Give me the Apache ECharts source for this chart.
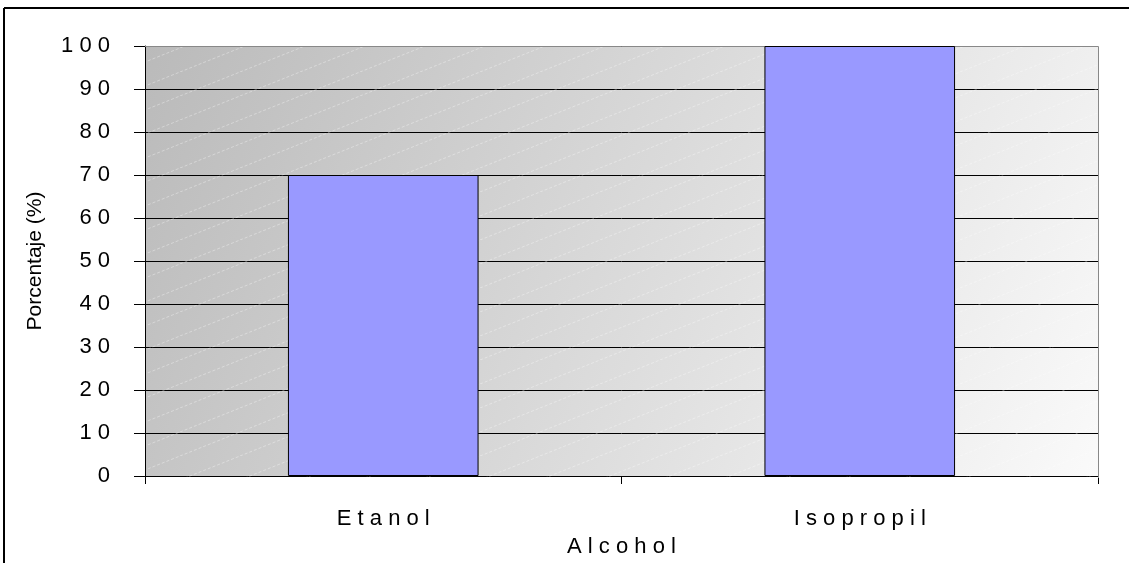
<!DOCTYPE html>
<html>
<head>
<meta charset="utf-8">
<script src="https://cdn.jsdelivr.net/npm/echarts@6/dist/echarts.min.js"></script>
<style>
    html, body { margin: 0; padding: 0; background: #fff; }
    #chart { width: 1129px; height: 563px; }
</style>
</head>
<body>
<div id="chart"></div>
<script>
    var categories = ['Etanol', 'Isopropil'];
    var porcentaje = [70, 100];
    var yTicks = [0, 100, 10]; // min, max, interval

    // spaced-out lettering like the original
    function spaced(s) {
        return String(s).split('').join(' ');
    }

    // faint diagonal hatch for the plot background
    function hatchPattern() {
        var c = document.createElement('canvas');
        c.width = 60; c.height = 24;
        var ctx = c.getContext('2d');
        ctx.strokeStyle = 'rgba(255,255,255,0.35)';
        ctx.lineWidth = 1;
        ctx.setLineDash([3, 2]);
        ctx.beginPath();
        ctx.moveTo(0, 24); ctx.lineTo(60, 0);
        ctx.stroke();
        return c;
    }

    var chart = echarts.init(document.getElementById('chart'));
    chart.setOption({
        animation: false,
        textStyle: { fontFamily: 'Liberation Sans, Arial, sans-serif' },
        graphic: [
            { type: 'line', shape: { x1: 4, y1: 8, x2: 1129, y2: 8 }, style: { stroke: '#000', lineWidth: 2 } },
            { type: 'line', shape: { x1: 4, y1: 8, x2: 4, y2: 563 }, style: { stroke: '#000', lineWidth: 2 } },
            { type: 'rect', z: 1, silent: true, shape: { x: 146, y: 46, width: 952, height: 431 },
              style: { fill: { image: hatchPattern(), repeat: 'repeat' } } },
            { type: 'polyline', z: 1, silent: true, shape: { points: [[145, 46.5], [1098.5, 46.5], [1098.5, 478]] },
              style: { fill: 'none', stroke: '#888', lineWidth: 1 } }
        ],
        grid: {
            left: 145, top: 46, right: 31, bottom: 85,
            show: true,
            borderWidth: 0,
            backgroundColor: new echarts.graphic.LinearGradient(0, 0, 1, 1, [
                { offset: 0, color: '#bababa' },
                { offset: 1, color: '#fafafa' }
            ])
        },
        xAxis: {
            type: 'category',
            data: categories,
            name: spaced('Alcohol'),
            nameLocation: 'middle',
            nameGap: 60,
            nameTextStyle: { fontSize: 22, color: '#000' },
            axisLine: { lineStyle: { color: '#000', width: 1 } },
            axisTick: { show: true, length: 8, lineStyle: { color: '#000' } },
            axisLabel: { color: '#000', fontSize: 22, margin: 32, formatter: spaced }
        },
        yAxis: {
            type: 'value',
            min: yTicks[0],
            max: yTicks[1],
            interval: yTicks[2],
            name: 'Porcentaje (%)',
            nameLocation: 'middle',
            nameGap: 99,
            nameTextStyle: { fontSize: 21, color: '#000' },
            axisLine: { show: true, lineStyle: { color: '#000', width: 1 } },
            axisTick: { show: true, length: 11, lineStyle: { color: '#000' } },
            axisLabel: { color: '#000', fontSize: 22, margin: 35, formatter: spaced },
            splitLine: { lineStyle: { color: '#000', width: 1 } }
        },
        series: [{
            type: 'bar',
            data: porcentaje,
            barWidth: '40%',
            z: 3,
            itemStyle: { color: '#9999ff', borderColor: '#000', borderWidth: 1 }
        }]
    });
</script>
</body>
</html>
